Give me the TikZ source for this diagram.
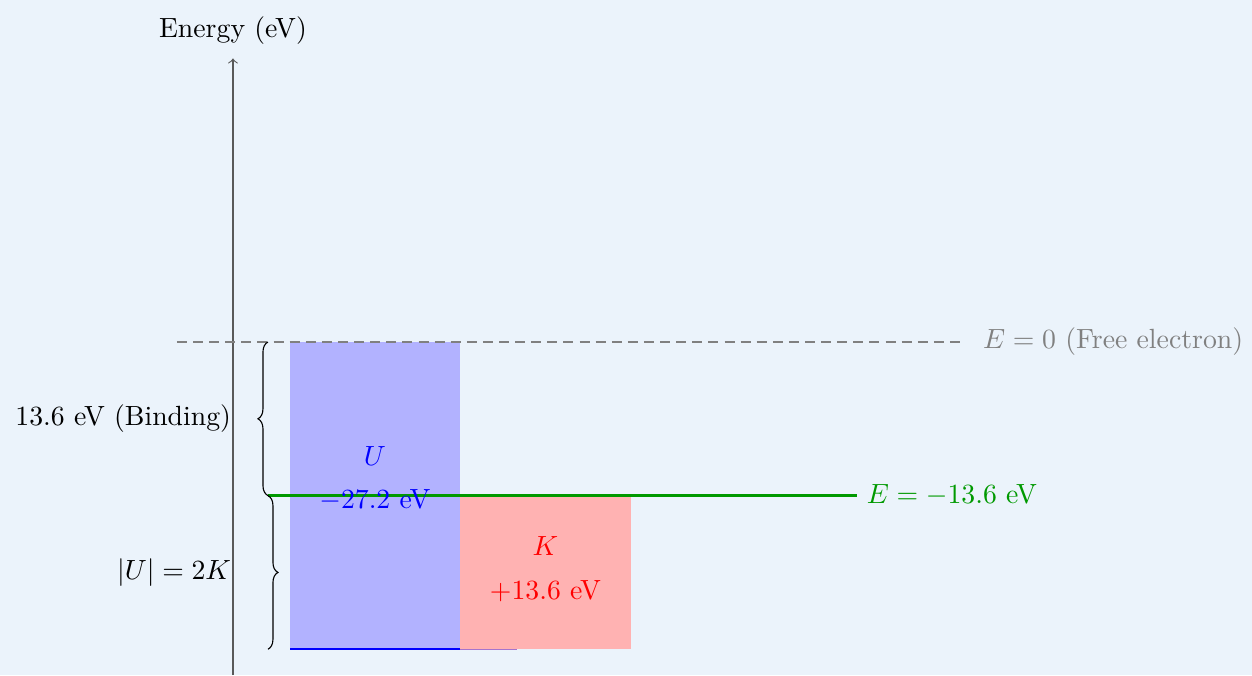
\documentclass[tikz,border=0pt]{standalone}
\usetikzlibrary{decorations.pathreplacing}
\tikzset{>=to}
\colorlet{ucol}{blue!30}
\colorlet{kcol}{red!30}
\colorlet{ecol}{green!60!black}
\colorlet{axcol}{black!65}
\definecolor{bgcol}{HTML}{EBF3FB}
\tikzstyle{level}=[ecol,line width=1.2pt]
\tikzstyle{freeline}=[gray,thick,dash pattern=on 3.6pt off 2.2pt]
\tikzstyle{brace}=[decorate,decoration={brace,amplitude=3.6pt}]

\begin{document}
\begin{tikzpicture}[x=1cm,y=0.143cm]
  \def\E{-13.6}   % ground state energy
  \def\U{-27.2}   % potential energy
  \def\xa{0.722}  % left edge of U bar
  \def\xb{2.873}  % right edge of U bar
  \def\xc{5.038}  % right edge of K bar
  \def\xbr{0.443} % brace ends
  \coordinate (O) at (0,0);
  \coordinate (B) at (\xbr,0);
  \coordinate (C) at (\xbr,\E);
  \coordinate (D) at (\xbr,\U);
  \coordinate (Y) at (0,25.1);
  
  % BACKGROUND
  \fill[bgcol] (-2.949,-29.48) rectangle (12.899,30.27);
  \useasboundingbox (-2.949,-29.48) rectangle (12.899,30.27);
  
  % BARS
  \fill[ucol] (\xa,0) rectangle (\xb,\U);
  \draw[blue,line width=0.8pt] (\xa,\U) -- (\xb,\U);
  \draw[blue!35!kcol,line width=0.6pt] (\xb,\U) -- (3.595,\U);
  \fill[kcol] (\xb,\E) rectangle (\xc,\U);
  
  % AXIS
  \draw[->,axcol] (0,-29.48) -- (Y);
  \node (ylabel) at (0,27.6) {Energy (eV)};
  
  % LEVELS
  \draw[freeline] (-0.709,0) -- (9.203,0) coordinate (F);
  \node[gray,right] (free) at (9.37,0) {$E=0$ (Free electron)};
  \draw[level] (C) -- (7.899,\E) coordinate (G);
  \node[ecol,right] (ground) at (G) {$E=-13.6$ eV};
  
  % LABELS
  \node[blue] (U) at (1.797,-10.09) {$U$};
  \node[blue] (Uval) at (1.797,-14.0) {$-27.2$ eV};
  \node[red] (K) at (3.956,-18.06) {$K$};
  \node[red] (Kval) at (3.956,-22.1) {$+13.6$ eV};
  
  % BRACES
  \draw[brace] (C) -- (B);
  \draw[brace] (C) -- (D);
  \node[left,inner sep=0.5pt] (bind) at (0,-6.8) {13.6 eV (Binding)};
  \node[left,inner sep=0.5pt] (virial) at (0,-20.4) {$|U|=2K$};
  
\end{tikzpicture}
\end{document}
